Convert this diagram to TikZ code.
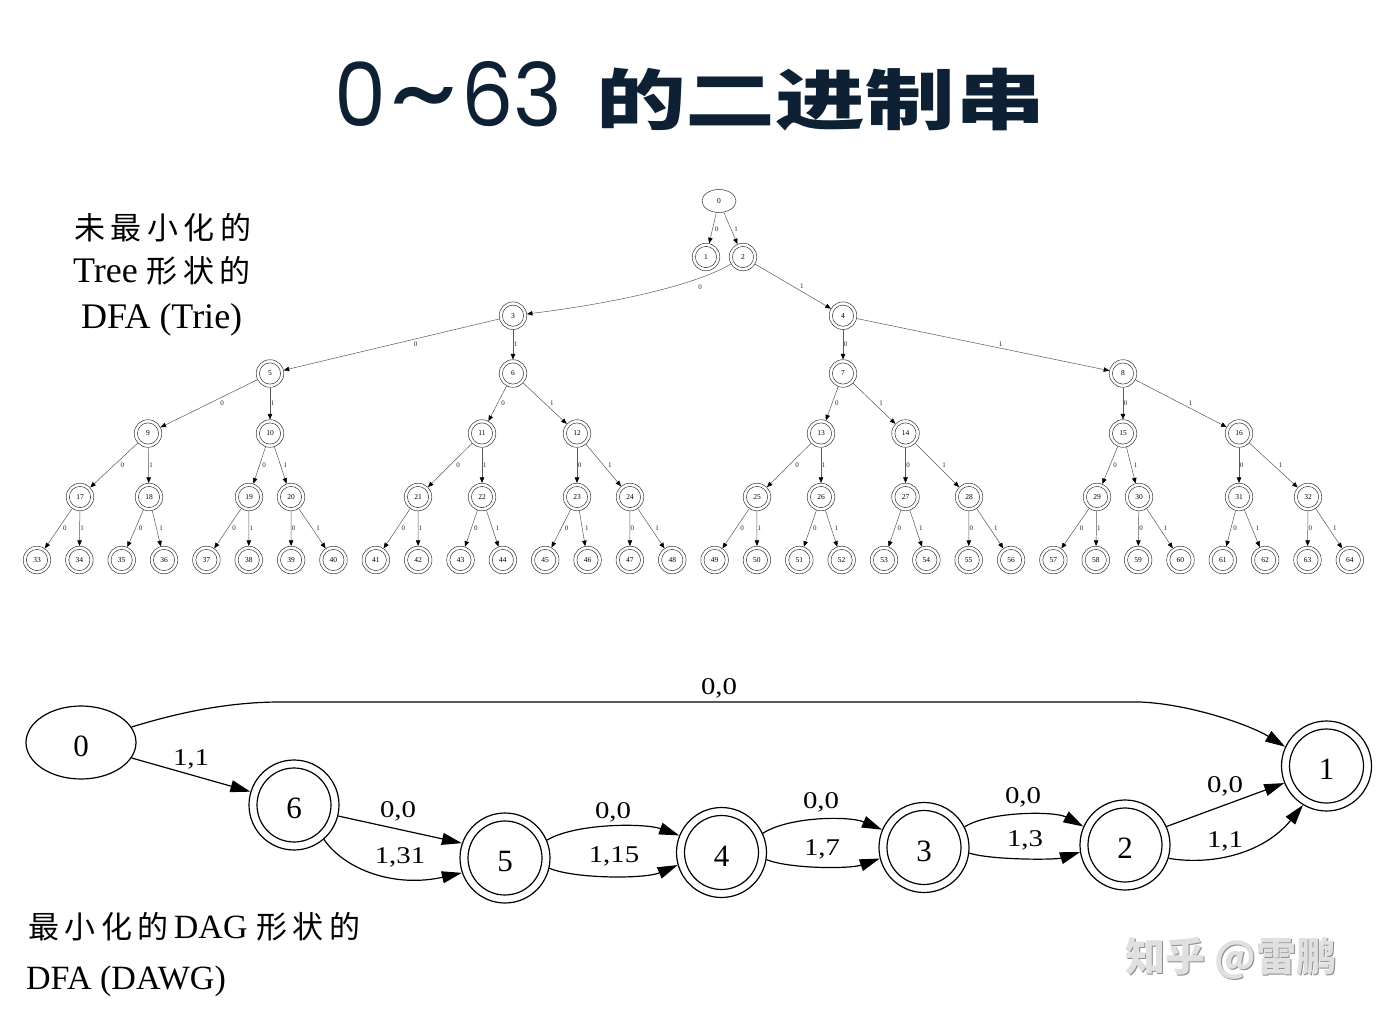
\documentclass[tikz,border=0pt]{standalone}
\usepackage{fontspec}
\setmainfont{Liberation Serif}
\newfontfamily\cjk{Noto Sans CJK SC}
\newfontfamily\cjksp{Noto Sans CJK SC}[LetterSpace=18]
\newfontfamily\pop{Poppins}
\usetikzlibrary{arrows.meta,shapes.geometric,calc}
\definecolor{titlec}{RGB}{14,32,52}
\newcommand{\elab}[1]{\scalebox{1.2}[1]{#1}}
\newcommand{\cjkcap}[1]{{\cjksp\fontsize{31}{34}\selectfont #1}}
\begin{document}
\begin{tikzpicture}[x=1pt,y=-1pt,
  tn/.style={circle, draw=black!80, line width=0.5pt, minimum size=27.6pt, inner sep=0pt,
    font=\fontsize{7.5}{8}\selectfont,
    path picture={\draw[black!80,line width=0.5pt] (path picture bounding box.center) circle (10.6pt);}},
  tn0/.style={ellipse, draw=black!80, line width=0.5pt, minimum width=34pt, minimum height=23pt, inner sep=0pt,
    font=\fontsize{7.5}{8}\selectfont},
  tedge/.style={draw=black!65, line width=0.5pt, -{Triangle[length=5.5pt,width=4.5pt,color=black]}},
  tlab/.style={font=\fontsize{7}{8}\selectfont, inner sep=0pt, text=black!85},
  dn/.style={circle, draw, line width=1.2pt, minimum size=90pt, inner sep=0pt,
    font=\fontsize{31}{34}\selectfont, text height=27pt, text depth=0pt,
    path picture={\draw[line width=1.2pt] (path picture bounding box.center) circle (37pt);}},
  dell/.style={ellipse, draw, line width=1.2pt, minimum width=110pt, minimum height=73pt, inner sep=0pt,
    font=\fontsize{31}{34}\selectfont, text height=27pt, text depth=0pt},
  dedge/.style={line width=1.2pt, -{Triangle[length=20pt,width=12pt]}},
  dlab/.style={font=\fontsize{24}{26}\selectfont, inner sep=0pt},
  txt/.style={anchor=base west, inner sep=0pt}
]
\fill[white] (0,0) rectangle (1379,1014);
\useasboundingbox (0,0) rectangle (1379,1014);

% ---------- title ----------
\node[anchor=west, inner sep=0pt, text=titlec] (title1) at (334,97)
  {\resizebox{228pt}{65pt}{\pop 0\hspace{0.04em}\raisebox{-0.06em}{\scalebox{1.6}[1.3]{\char"7E}}\hspace{0.04em}63}};
\node[anchor=west, inner sep=0pt, text=titlec] (title2) at (596,100)
  {\scalebox{1.36}[1]{\cjk\bfseries\fontsize{66}{70}\selectfont 的二进制串}};

% ---------- left captions ----------
\node[txt] (cap1) at (74,239) {\cjkcap{未最小化的}};
\node[txt] (cap2) at (73,282) {\fontsize{36}{40}\selectfont Tree \cjkcap{形状的}};
\node[txt] (cap3) at (81,328) {\fontsize{36}{40}\selectfont DFA (Trie)};

\node[txt] (cap4) at (28,938) {\cjkcap{最小化的}\hspace{5pt}{\fontsize{34}{40}\selectfont DAG }\cjkcap{形状的}};
\node[txt] (cap5) at (26,989) {\fontsize{34}{40}\selectfont DFA (DAWG)};

% ---------- watermark ----------
\node[txt, text=black!45] (wm1) at (1126.5,972.5) {\cjk\bfseries\fontsize{40}{44}\selectfont 知乎 @雷鹏};
\node[txt, text=black!12] (wm2) at (1125,971) {\cjk\bfseries\fontsize{40}{44}\selectfont 知乎 @雷鹏};

% ---------- trie ----------
\node[tn0] (T0) at (719,201) {0};
\foreach \i/\xx/\yy in {1/706/257, 2/743/257, 3/513/315.7, 4/843/315.7,
  5/270/373.5, 6/513/373.5, 7/843/373.5, 8/1123/373.5,
  9/148/433.5, 10/270/433.5, 11/482/433.5, 12/577/433.5, 13/821/433.5, 14/905.5/433.5, 15/1123/433.5, 16/1239/433.5,
  17/80/497, 18/149/497, 19/249/497, 20/291/497, 21/418/497, 22/482/497, 23/577/497, 24/630/497,
  25/757/497, 26/821/497, 27/905.5/497, 28/969/497, 29/1097/497, 30/1139/497, 31/1239/497, 32/1308/497}
  {\node[tn] (T\i) at (\xx,\yy) {\i};}
\foreach \i in {33,...,64}{
  \pgfmathsetmacro\xx{37+(\i-33)*42.35}
  \node[tn] (T\i) at (\xx,560) {\i};
}

\newcommand{\tedgelab}[3]{%
  \draw[tedge] (T#1) -- (T#2);
  \path let \p1=(T#1.center), \p2=(T#2.center),
    \n1={(\x1-\x2)/(\y1-\y2)},
    \n2={ifthenelse(\n1>0.05, 3+5*(\n1), ifthenelse(\n1<-0.05, 4-2.8*(\n1), 2.5))}
    in node[tlab, xshift=\n2] (TL#1x#2) at ($(T#1.center)!0.5!(T#2.center)$) {#3};
}
\foreach \a/\b/\l in {0/1/0, 0/2/1, 2/4/1, 3/5/0, 3/6/1, 4/7/0, 4/8/1,
  5/9/0, 5/10/1, 6/11/0, 6/12/1, 7/13/0, 7/14/1, 8/15/0, 8/16/1,
  9/17/0, 9/18/1, 10/19/0, 10/20/1, 11/21/0, 11/22/1, 12/23/0, 12/24/1,
  13/25/0, 13/26/1, 14/27/0, 14/28/1, 15/29/0, 15/30/1, 16/31/0, 16/32/1}
  {\tedgelab{\a}{\b}{\l}}
\foreach \a in {17,...,32}{
  \pgfmathtruncatemacro\bz{2*\a-1}
  \pgfmathtruncatemacro\bo{2*\a}
  \tedgelab{\a}{\bz}{0}
  \tedgelab{\a}{\bo}{1}
}
\draw[tedge] (T2) .. controls (690,288) and (600,305) .. (T3);
\node[tlab] (TL2x3) at (700,287) {0};

% ---------- DAWG ----------
\node[dell] (D0) at (81,742.5) {0};
\node[dn] (D6) at (294,805) {6};
\node[dn] (D5) at (505,858) {5};
\node[dn] (D4) at (721.5,852.5) {4};
\node[dn] (D3) at (924,847.5) {3};
\node[dn] (D2) at (1125,845) {2};
\node[dn] (D1) at (1326.5,766) {1};

\draw[dedge] (D0.17) .. controls (180,712) and (230,702) .. (280,702) -- (1140,702)
  .. controls (1190,704) and (1250,725) .. (D1.155);
\draw[dedge] (D0.-17) -- (D6.163);
\draw[dedge] (D6.-14) -- (D5.161);
\draw[dedge] (D6.-49) .. controls (345,870) and (395,888) .. (D5.-161);
\draw[dedge] (D5.23) .. controls (575,823) and (645,823) .. (D4.158);
\draw[dedge] (D5.-13) .. controls (575,879) and (645,879) .. (D4.-164);
\draw[dedge] (D4.25) .. controls (790,816) and (850,816) .. (D3.157);
\draw[dedge] (D4.-9) .. controls (790,869) and (850,869) .. (D3.-166);
\draw[dedge] (D3.27) .. controls (990,811) and (1055,811) .. (D2.156);
\draw[dedge] (D3.-7) .. controls (990,860) and (1055,860) .. (D2.-171);
\draw[dedge] (D2.24) -- (D1.-158);
\draw[dedge] (D2.-17) .. controls (1215,866) and (1265,852) .. (D1.-121);

\node[dlab] (L01) at (719,688) {\elab{0,0}};
\node[dlab] (L06) at (191,759) {\elab{1,1}};
\node[dlab] (L65a) at (398,811) {\elab{0,0}};
\node[dlab] (L65b) at (400,857) {\elab{1,31}};
\node[dlab] (L54a) at (613,812) {\elab{0,0}};
\node[dlab] (L54b) at (614,856) {\elab{1,15}};
\node[dlab] (L43a) at (821,802) {\elab{0,0}};
\node[dlab] (L43b) at (822,849) {\elab{1,7}};
\node[dlab] (L32a) at (1023,797) {\elab{0,0}};
\node[dlab] (L32b) at (1025,840) {\elab{1,3}};
\node[dlab] (L21a) at (1225,786) {\elab{0,0}};
\node[dlab] (L21b) at (1225,841) {\elab{1,1}};
\end{tikzpicture}
\end{document}
